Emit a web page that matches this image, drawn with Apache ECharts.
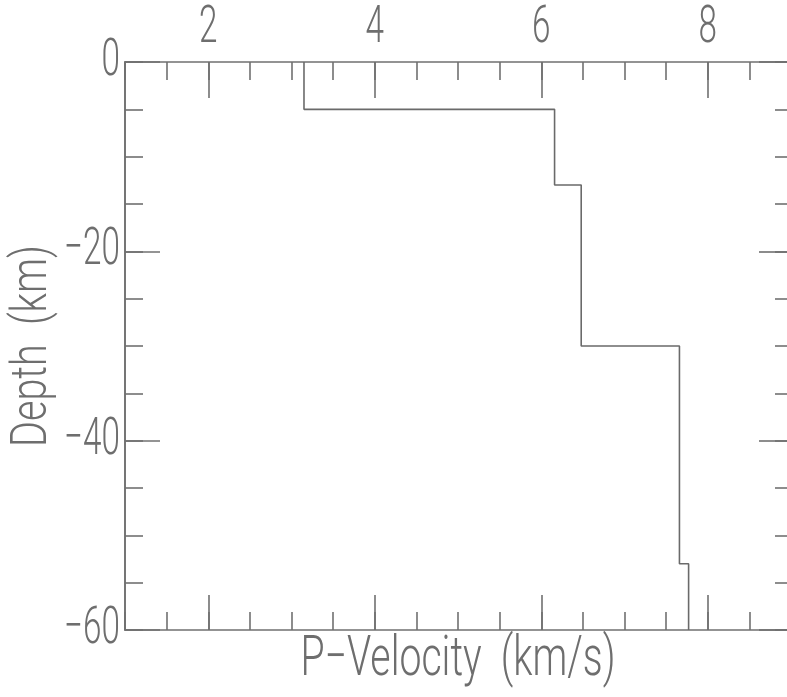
<!DOCTYPE html>
<html><head><meta charset="utf-8">
<script src="https://cdn.jsdelivr.net/npm/echarts@6/dist/echarts.min.js"></script>
<style>html,body{margin:0;padding:0;background:#fff}#c{width:787px;height:697px}</style>
</head><body><div id="c"></div>
<script>
// Layered P-velocity model (depth in km, positive down; velocity in km/s)
const layerTop = [0, 5, 13, 30, 53];
const layerBottom = [5, 13, 30, 53, 60];
const velocity = [3.15, 6.16, 6.48, 7.66, 7.77];
const xMajorTicks = [2, 4, 6, 8];
const yMajorTicks = [0, -20, -40, -60];
const xTitle = 'P\u2212Velocity  (km/s)';
const yTitle = 'Depth  (km)';

const points = [];
velocity.forEach((v, i) => {
  points.push([v, -layerTop[i]]);
  points.push([v, -layerBottom[i]]);
});

// The reference uses a very condensed plotter font; emulate it by drawing
// text narrower (horizontal scale per font size), keeping it real text.
const SIZE_LABEL = 52, SIZE_XTITLE = 56, SIZE_YTITLE = 50;
const squeeze = { 52: 0.64, 56: 0.70, 50: 0.79 };
(function () {
  const P = CanvasRenderingContext2D.prototype;
  const ft = P.fillText, mt = P.measureText;
  function sc(ctx) {
    const m = /(\d+(?:\.\d+)?)px/.exec(ctx.font || '');
    if (!m || !/Roboto/.test(ctx.font)) return 1;
    return squeeze[Math.round(parseFloat(m[1]))] || 1;
  }
  P.fillText = function (t, x, y, mw) {
    const s = sc(this);
    if (s === 1) return ft.apply(this, arguments);
    this.save(); this.translate(x, y); this.scale(s, 1);
    ft.call(this, t, 0, 0);
    this.restore();
  };
  P.measureText = function (t) {
    const m = mt.call(this, t);
    const s = sc(this);
    if (s === 1) return m;
    return {
      width: m.width * s,
      actualBoundingBoxAscent: m.actualBoundingBoxAscent,
      actualBoundingBoxDescent: m.actualBoundingBoxDescent,
      actualBoundingBoxLeft: m.actualBoundingBoxLeft * s,
      actualBoundingBoxRight: m.actualBoundingBoxRight * s,
      fontBoundingBoxAscent: m.fontBoundingBoxAscent,
      fontBoundingBoxDescent: m.fontBoundingBoxDescent
    };
  };
})();

const FONT = 'Roboto';
const TXT = '#6e6e6e';
const LN = '#707070';
const fmt = v => String(v).replace('-', '\u2212');

const gridBox = { left: 125, right: -4, top: 62, bottom: 67, outerBoundsMode: 'none', containLabel: false };
const lineStyle = { color: LN, width: 1.6 };
const axLine = show => ({ show, onZero: false, lineStyle });

const option = {
  animation: false,
  backgroundColor: '#fff',
  grid: [Object.assign({}, gridBox), Object.assign({}, gridBox)],
  xAxis: [
    { gridIndex: 0, type: 'value', position: 'top', min: 1, max: 9, interval: 0.5,
      axisLine: axLine(true), splitLine: { show: false },
      axisTick: { show: true, inside: true, length: 18, lineStyle },
      axisLabel: { show: true, customValues: xMajorTicks, color: TXT, fontFamily: FONT, fontWeight: 300, fontSize: SIZE_LABEL, margin: 16, formatter: fmt } },
    { gridIndex: 0, type: 'value', position: 'bottom', min: 1, max: 9, interval: 0.5,
      axisLine: axLine(true), splitLine: { show: false },
      axisTick: { show: true, inside: true, length: 18, lineStyle },
      axisLabel: { show: false },
      name: xTitle, nameLocation: 'middle', nameGap: 11,
      nameTextStyle: { color: TXT, fontFamily: FONT, fontWeight: 300, fontSize: SIZE_XTITLE, verticalAlign: 'top' } },
    { gridIndex: 1, type: 'value', position: 'top', min: 1, max: 9, interval: 0.5,
      axisLine: axLine(false), splitLine: { show: false },
      axisTick: { show: true, inside: true, length: 36, customValues: xMajorTicks, lineStyle },
      axisLabel: { show: false } },
    { gridIndex: 1, type: 'value', position: 'bottom', min: 1, max: 9, interval: 0.5,
      axisLine: axLine(false), splitLine: { show: false },
      axisTick: { show: true, inside: true, length: 35, customValues: xMajorTicks, lineStyle },
      axisLabel: { show: false } }
  ],
  yAxis: [
    { gridIndex: 0, type: 'value', position: 'left', min: -60, max: 0, interval: 5,
      axisLine: axLine(true), splitLine: { show: false },
      axisTick: { show: true, inside: true, length: 18, lineStyle },
      axisLabel: { show: true, customValues: yMajorTicks, color: TXT, fontFamily: FONT, fontWeight: 300, fontSize: SIZE_LABEL, margin: 5, formatter: fmt },
      name: yTitle, nameLocation: 'middle', nameGap: 65, nameRotate: 90,
      nameTextStyle: { color: TXT, fontFamily: FONT, fontWeight: 300, fontSize: SIZE_YTITLE } },
    { gridIndex: 0, type: 'value', position: 'right', min: -60, max: 0, interval: 5,
      axisLine: axLine(true), splitLine: { show: false },
      axisTick: { show: true, inside: true, length: 16, lineStyle },
      axisLabel: { show: false } },
    { gridIndex: 1, type: 'value', position: 'left', min: -60, max: 0, interval: 5,
      axisLine: axLine(true), splitLine: { show: false },
      axisTick: { show: true, inside: true, length: 35, customValues: yMajorTicks, lineStyle },
      axisLabel: { show: false } },
    { gridIndex: 1, type: 'value', position: 'right', min: -60, max: 0, interval: 5,
      axisLine: axLine(false), splitLine: { show: false },
      axisTick: { show: true, inside: true, length: 32, customValues: yMajorTicks, lineStyle },
      axisLabel: { show: false } }
  ],
  series: [{
    type: 'line', xAxisIndex: 0, yAxisIndex: 0, data: points,
    symbol: 'none', lineStyle: { color: '#6a6a6a', width: 1.6 }, silent: true
  }]
};
echarts.init(document.getElementById('c')).setOption(option);
</script></body></html>
